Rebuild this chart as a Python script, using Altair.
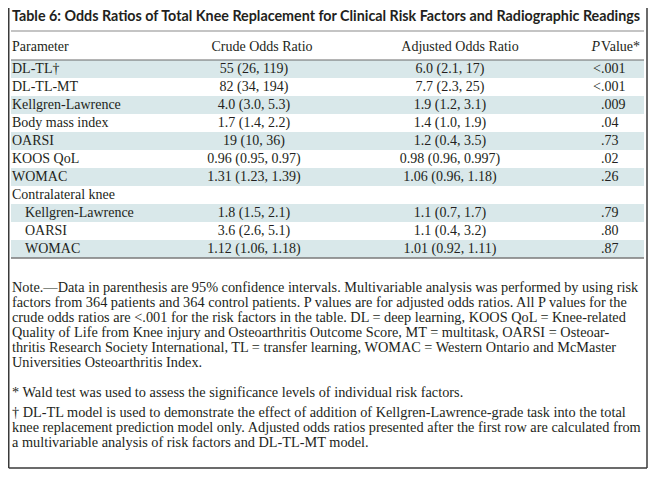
import altair as alt
import pandas as pd

# ---------------- data ----------------
title_text = "Table 6: Odds Ratios of Total Knee Replacement for Clinical Risk Factors and Radiographic Readings"
headers = ["Parameter", "Crude Odds Ratio", "Adjusted Odds Ratio", "Value*"]

params = ["DL-TL\u2020", "DL-TL-MT", "Kellgren-Lawrence", "Body mass index", "OARSI",
          "KOOS QoL", "WOMAC", "Contralateral knee", "Kellgren-Lawrence", "OARSI", "WOMAC"]
indent = [0, 0, 0, 0, 0, 0, 0, 0, 1, 1, 1]
crude = ["55 (26, 119)", "82 (34, 194)", "4.0 (3.0, 5.3)", "1.7 (1.4, 2.2)", "19 (10, 36)",
         "0.96 (0.95, 0.97)", "1.31 (1.23, 1.39)", "", "1.8 (1.5, 2.1)", "3.6 (2.6, 5.1)",
         "1.12 (1.06, 1.18)"]
adjusted = ["6.0 (2.1, 17)", "7.7 (2.3, 25)", "1.9 (1.2, 3.1)", "1.4 (1.0, 1.9)", "1.2 (0.4, 3.5)",
            "0.98 (0.96, 0.997)", "1.06 (0.96, 1.18)", "", "1.1 (0.7, 1.7)", "1.1 (0.4, 3.2)",
            "1.01 (0.92, 1.11)"]
p_prefix = ["<", "<", "", "", "", "", "", "", "", "", ""]
p_value = [".001", ".001", ".009", ".04", ".73", ".02", ".26", "", ".79", ".80", ".87"]

note_lines = [
    "Note.\u2014Data in parenthesis are 95% confidence intervals. Multivariable analysis was performed by using risk",
    "factors from 364 patients and 364 control patients. P values are for adjusted odds ratios. All P values for the",
    "crude odds ratios are <.001 for the risk factors in the table. DL = deep learning, KOOS QoL = Knee-related",
    "Quality of Life from Knee injury and Osteoarthritis Outcome Score, MT = multitask, OARSI = Osteoar-",
    "thritis Research Society International, TL = transfer learning, WOMAC = Western Ontario and McMaster",
    "Universities Osteoarthritis Index.",
]
foot1 = ["* Wald test was used to assess the significance levels of individual risk factors."]
foot2 = [
    "\u2020 DL-TL model is used to demonstrate the effect of addition of Kellgren-Lawrence-grade task into the total",
    "knee replacement prediction model only. Adjusted odds ratios presented after the first row are calculated from",
    "a multivariable analysis of risk factors and DL-TL-MT model.",
]

# ---------------- layout ----------------
W, H = 640, 461
SERIF = "Liberation Serif"
SANS = "Lato"
FS = 14.0
FS_NOTE = 14.3
INK = "#231f20"
BAND = "#d9e8ea"
LEFT, RIGHT = 3, 636
TOP, ROW_H = 52, 18
X_CRUDE, X_ADJ, X_P = 246, 442, 593

xs = alt.Scale(domain=[0, W], range=[0, W])
ys = alt.Scale(domain=[0, H], range=[0, H])
X = lambda f="x": alt.X(f"{f}:Q", scale=xs, axis=None)
Y = lambda f="y": alt.Y(f"{f}:Q", scale=ys, axis=None)

n = len(params)
rows = pd.DataFrame({
    "param": params, "indent": indent, "crude": crude, "adj": adjusted,
    "pp": p_prefix, "pv": p_value,
})
rows["y"] = [TOP + ROW_H * (i + 0.5) for i in range(n)]
rows["xp"] = [4 + 13 * k for k in indent]
rows["xc"] = X_CRUDE
rows["xa"] = X_ADJ
rows["xq"] = X_P

bands = pd.DataFrame({
    "x": [LEFT] * n, "x2": [RIGHT] * n,
    "y": [TOP + ROW_H * i for i in range(n)],
    "y2": [TOP + ROW_H * (i + 1) for i in range(n)],
    "shade": [i % 2 == 0 for i in range(n)],
})
bands = bands[bands["shade"]]

band_layer = alt.Chart(bands).mark_rect(color=BAND).encode(
    x=X(), x2="x2:Q", y=Y(), y2="y2:Q")

rules = pd.DataFrame({
    "x": [LEFT, LEFT, LEFT], "x2": [RIGHT, RIGHT, RIGHT],
    "y": [23, TOP, TOP + ROW_H * n], "w": [1.2, 1.2, 1.6],
    "c": ["#8a8a8a", "#6b6b6b", "#7a7a7a"],
})
rule_layer = alt.Chart(rules).mark_rule().encode(
    x=X(), x2="x2:Q", y=Y(),
    strokeWidth=alt.StrokeWidth("w:Q", scale=None),
    color=alt.Color("c:N", scale=None))

frame = pd.DataFrame({
    "x": [0.75, W - 1, 0.75], "x2": [0.75, W - 1, W - 1],
    "y": [0, 0, H - 1], "y2": [H - 1, H - 1, H - 1],
})
frame_layer = alt.Chart(frame).mark_rule(color="#3a3a3a", strokeWidth=1.5).encode(
    x=X(), x2="x2:Q", y=Y(), y2="y2:Q")

title_layer = alt.Chart(pd.DataFrame({"t": [title_text], "x": [4], "y": [9]})).mark_text(
    align="left", baseline="middle", font=SANS, fontSize=14.3, fontWeight="bold", color=INK
).encode(x=X(), y=Y(), text="t:N")

hdr = pd.DataFrame({
    "t": headers, "x": [4, X_CRUDE + 8, X_ADJ + 10, 632], "y": [39] * 4,
    "a": ["left", "center", "center", "right"],
})
hdr_layers = []
for _, r in hdr.iterrows():
    hdr_layers.append(alt.Chart(pd.DataFrame([r])).mark_text(
        align=r["a"], baseline="middle", font=SERIF, fontSize=FS, color=INK
    ).encode(x=X(), y=Y(), text="t:N"))
p_layer = alt.Chart(pd.DataFrame({"t": ["P"], "x": [592], "y": [39]})).mark_text(
    align="right", baseline="middle", font=SERIF, fontSize=FS, fontStyle="italic", color=INK
).encode(x=X(), y=Y(), text="t:N")

def col(field, xfield, align):
    return alt.Chart(rows).mark_text(
        align=align, baseline="middle", font=SERIF, fontSize=FS, color=INK
    ).encode(x=X(xfield), y=Y(), text=f"{field}:N")

body = [col("param", "xp", "left"), col("crude", "xc", "center"),
        col("adj", "xa", "center"), col("pp", "xq", "right"), col("pv", "xq", "left")]

notes = pd.DataFrame({
    "t": note_lines + foot1 + foot2,
    "y": [280 + 15 * k for k in range(len(note_lines))] + [385] + [405 + 15 * k for k in range(len(foot2))],
})
notes["x"] = 4
note_layer = alt.Chart(notes).mark_text(
    align="left", baseline="middle", font=SERIF, fontSize=FS_NOTE, color=INK
).encode(x=X(), y=Y(), text="t:N")

chart = alt.layer(
    band_layer, rule_layer, frame_layer, title_layer, *hdr_layers, p_layer, *body, note_layer
).properties(
    width=W, height=H, autosize=alt.AutoSizeParams(type="none"), padding=0, background="white"
).configure_view(stroke=None)

chart.save("out.html", embed_options={"renderer": "svg", "actions": False})
